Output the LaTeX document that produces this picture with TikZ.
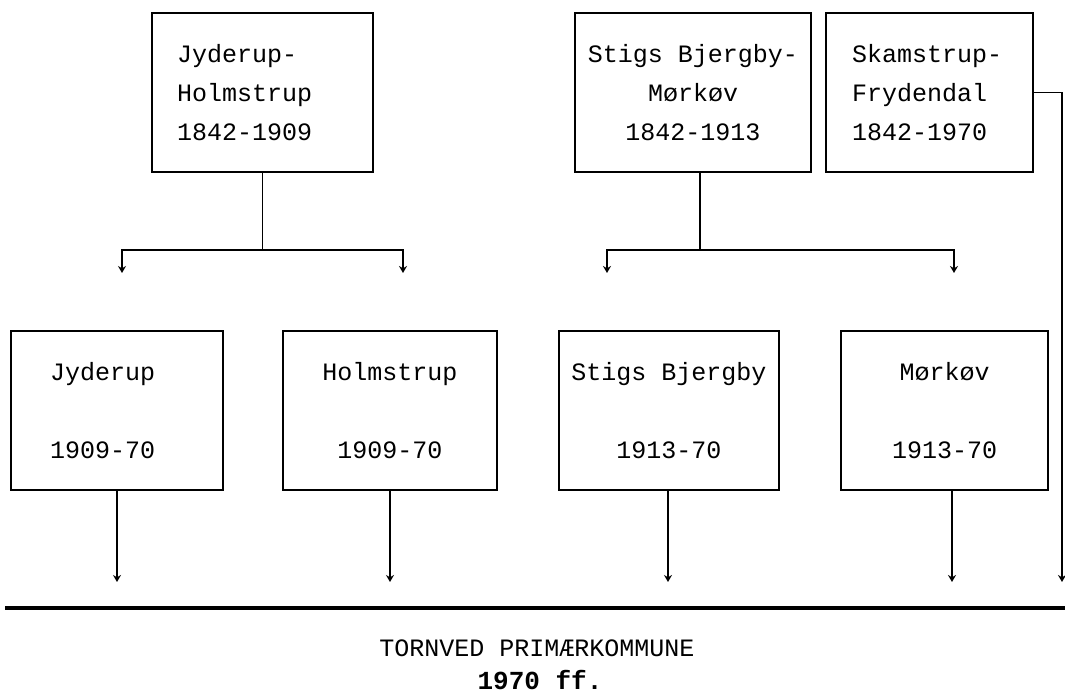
\documentclass[tikz,border=0pt]{standalone}
\usepackage{fontspec}
\setmonofont{Liberation Mono}
\usetikzlibrary{arrows.meta}
\begin{document}
\begin{tikzpicture}[x=1pt,y=-1pt,
  box/.style={draw, line width=2.4pt, minimum height=159pt, inner sep=0pt,
    font=\ttfamily\fontsize{25}{39}\selectfont},
  conn/.style={line width=1.8pt},
  arr/.style={conn, -{Stealth[length=7pt,width=8pt]}}]
\useasboundingbox (0,0) rectangle (1065,696);

% top row
\node[box, text width=171pt, inner xsep=25pt, align=left] (jh) at (262.5,92.5) {Jyderup-\\Holmstrup\\1842-1909};
\node[box, minimum width=236pt, align=center] (sbm) at (693,92.5) {Stigs Bjergby-\\Mørkøv\\1842-1913};
\node[box, text width=155pt, inner xsep=26pt, align=left] (sf) at (929.5,92.5) {Skamstrup-\\Frydendal\\1842-1970};

% bottom row
\node[box, text width=134pt, inner xsep=39pt, align=left] (jy) at (117,410.5) {Jyderup\\[39pt]1909-70};
\node[box, minimum width=214pt, align=center] (ho) at (390,410.5) {Holmstrup\\[39pt]1909-70};
\node[box, minimum width=220pt, align=center] (sb) at (669,410.5) {Stigs Bjergby\\[39pt]1913-70};
\node[box, minimum width=207pt, align=center] (mk) at (944.5,410.5) {Mørkøv\\[39pt]1913-70};

% split connectors
\coordinate (jhsplit) at (262.5,250);
\coordinate (jyin) at (122,273);
\coordinate (hoin) at (403,273);
\draw[conn] (jh.south) -- (jhsplit);
\draw[arr] (jhsplit) -| (jyin);
\draw[arr] (jhsplit) -| (hoin);

\coordinate (sbsplit) at (700,250);
\coordinate (sbin) at (607,273);
\coordinate (mkin) at (954,273);
\draw[conn] (sbsplit |- sbm.south) -- (sbsplit);
\draw[arr] (sbsplit) -| (sbin);
\draw[arr] (sbsplit) -| (mkin);

% down to the base line
\coordinate (jyout) at (117,582);
\coordinate (hoout) at (390,582);
\coordinate (sbout) at (668,582);
\coordinate (mkout) at (952,582);
\coordinate (sfout) at (1062,582);
\draw[arr] (jy.south) -- (jyout);
\draw[arr] (ho.south) -- (hoout);
\draw[arr] (sbout |- sb.south) -- (sbout);
\draw[arr] (mkout |- mk.south) -- (mkout);
\draw[arr] (sf.east) -| (sfout);

% base line
\coordinate (base1) at (5,608);
\coordinate (base2) at (1065,608);
\draw[line width=3.2pt] (base1) -- (base2);

\node[font=\ttfamily\fontsize{25}{30}\selectfont, inner sep=0pt] (tp) at (537,648) {TORNVED PRIMÆRKOMMUNE};
\node[font=\ttfamily\bfseries\fontsize{26}{30}\selectfont, inner sep=0pt] (yr) at (540,680) {1970 ff.};
\end{tikzpicture}
\end{document}
